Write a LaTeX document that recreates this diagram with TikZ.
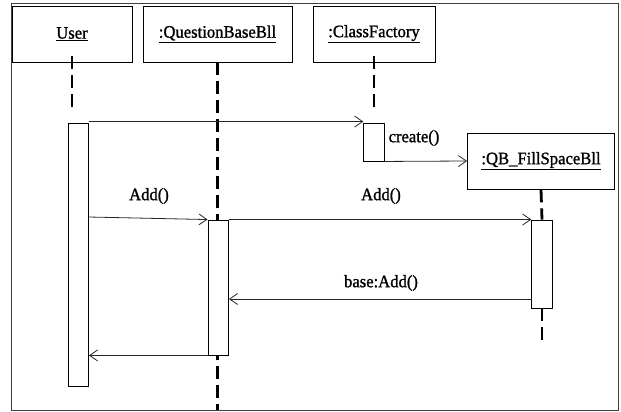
\documentclass[tikz,border=0pt]{standalone}
\usepackage{fontspec}
\setmainfont{Liberation Serif}[FakeBold=1.2, FakeStretch=0.95]
\usetikzlibrary{arrows.meta}
\begin{document}
\begin{tikzpicture}[x=1pt,y=-1pt,
  txt/.style={font=\fontsize{17.5}{19}\selectfont, inner sep=0pt},
  obj/.style={draw, line width=0.9pt, minimum height=56pt, inner sep=0pt, txt},
  act/.style={draw, fill=white, line width=0.9pt, minimum width=20.5pt, inner sep=0pt},
  life/.style={line width=2.8pt, dash pattern=on 13pt off 6pt},
  msg/.style={line width=0.8pt, draw=black!85, -{Straight Barb[length=8pt,width=11pt,line width=0.8pt]}}]
\useasboundingbox (0,0) rectangle (621,412);
\draw[line width=1pt, black!75] (11,4) rectangle (618,410);

% object boxes
\node[obj, minimum width=120pt] (user) at (72,34) {\underline{User}};
\node[obj, minimum width=149pt] (qbb) at (217.5,34) {\underline{:QuestionBaseBll}};
\node[obj, minimum width=122pt] (cf) at (374,34) {\underline{:ClassFactory}};
\node[obj, minimum width=147pt, minimum height=56pt] (qbfs) at (541,161) {\underline{:QB\_FillSpaceBll}};

% lifelines
\coordinate (bottom) at (218,410);
\draw[life] ([yshift=6pt]user.south) -- ++(0,55);
\draw[life] (qbb.south) -- (qbb.south |- bottom);
\draw[life] ([yshift=6pt]cf.south) -- ++(0,55);

% activations
\node[act, minimum height=263pt] (ua) at (78.25,254.5) {};
\node[act, minimum height=135pt] (qa) at (218.25,287.5) {};
\node[act, minimum height=38pt] (cfa) at (374,142) {};
\node[act, minimum height=88pt] (fa) at (542,264) {};

\draw[life] (qbfs.south) -- (fa.north);
\draw[life] (fa.south) -- ++(0,35);

% messages
\draw[msg] ([yshift=1pt]ua.north east) -- ([yshift=1pt]cfa.north west);
\draw[msg] (cfa.south east) -- (qbfs.west);
\node[txt] (lcreate) at (414,138) {create()};

\coordinate (m3) at (88.5,217);
\draw[msg] (m3) -- (qa.north west);
\node[txt] (ladd1) at (149,196) {Add()};

\draw[msg] (qa.north east) -- (fa.north west);
\node[txt] (ladd2) at (381,196) {Add()};

\coordinate (m5) at (531.75,299);
\draw[msg] (m5) -- (qa.east |- m5);
\node[txt] (lbase) at (381,283) {base:Add()};

\draw[msg] (qa.south west) -- (ua.east |- qa.south);
\end{tikzpicture}
\end{document}
